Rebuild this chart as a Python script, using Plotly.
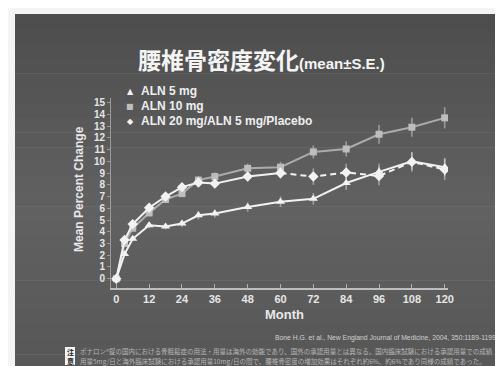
import plotly.graph_objects as go

# ---------------- data ----------------
months = [0, 3, 6, 12, 18, 24, 30, 36, 48, 60, 72, 84, 96, 108, 120]
x_ticks = [0, 12, 24, 36, 48, 60, 72, 84, 96, 108, 120]
y_ticks = list(range(0, 16))

aln5 = [0, 2.1, 3.4, 4.55, 4.45, 4.7, 5.4, 5.55, 6.1, 6.55, 6.8, 8.15, 9.1, 10.0, 9.5]
aln5_se = [0, 0.15, 0.2, 0.25, 0.25, 0.3, 0.35, 0.35, 0.4, 0.45, 0.5, 0.6, 0.7, 0.75, 0.8]

aln10 = [0, 3.0, 4.3, 5.6, 6.75, 7.25, 8.4, 8.7, 9.4, 9.5, 10.8, 11.05, 12.3, 12.9, 13.7]
aln10_se = [0, 0.15, 0.2, 0.25, 0.25, 0.3, 0.35, 0.35, 0.4, 0.45, 0.55, 0.65, 0.8, 0.8, 0.9]

aln20 = [0, 3.3, 4.65, 6.05, 7.0, 7.8, 8.2, 8.1, 8.7, 9.0, 8.7, 9.05, 8.75, 9.95, 9.3]
aln20_se = [0, 0.15, 0.2, 0.25, 0.25, 0.3, 0.35, 0.35, 0.4, 0.45, 0.7, 0.75, 0.8, 0.85, 0.9]
switch_index = 9  # month 60: solid before, dashed after

legend_labels = ["ALN 5 mg", "ALN 10 mg", "ALN 20 mg/ALN 5 mg/Placebo"]
title_jp = "腰椎骨密度変化"
title_en = "(mean±S.E.)"
y_title = "Mean Percent Change"
x_title = "Month"
citation = "Bone H.G. et al., New England Journal of Medicine, 2004, 350:1189-1199"
note_lines = [
    "ボナロン®錠の国内における骨粗鬆症の用法・用量は海外の効能であり、国外の承認用量とは異なる。国内臨床試験における承認用量での成績",
    "用量5mg/日と海外臨床試験における承認用量10mg/日の間で、腰椎骨密度の増加効果はそれぞれ約6%、約6%であり同様の成績であった。",
]

# ---------------- layout geometry ----------------
W, H = 503, 366
L, R, T, B = 103, 63, 90, 86
PW, PH = W - L - R, H - T - B


def px2x(px):
    return (px - L) / PW


def py2y(py):
    return (H - B - py) / PH


WHITE = "#f2f2f2"
EB = "rgba(255,255,255,0.40)"

fig = go.Figure()

# ALN 10 mg
fig.add_trace(go.Scatter(
    x=months, y=aln10, mode="lines+markers",
    line=dict(color="#ababab", width=2),
    marker=dict(symbol="square", size=7, color="#bdbdbd"),
    error_y=dict(type="data", array=aln10_se, color=EB, thickness=1.6, width=0),
    showlegend=False))

# ALN 5 mg
fig.add_trace(go.Scatter(
    x=months, y=aln5, mode="lines+markers",
    line=dict(color=WHITE, width=2),
    marker=dict(symbol="triangle-up", size=8, color=WHITE),
    error_y=dict(type="data", array=aln5_se, color=EB, thickness=1.6, width=0),
    showlegend=False))

# ALN 20 mg/ALN 5 mg/Placebo : solid part
fig.add_trace(go.Scatter(
    x=months[:switch_index + 1], y=aln20[:switch_index + 1], mode="lines+markers",
    line=dict(color=WHITE, width=2),
    marker=dict(symbol="diamond", size=8, color=WHITE),
    error_y=dict(type="data", array=aln20_se[:switch_index + 1], color=EB, thickness=1.6, width=0),
    showlegend=False))
# dashed part
fig.add_trace(go.Scatter(
    x=months[switch_index:], y=aln20[switch_index:], mode="lines+markers",
    line=dict(color=WHITE, width=2, dash="6px,4px"),
    marker=dict(symbol="diamond", size=8, color=WHITE),
    error_y=dict(type="data", array=aln20_se[switch_index:], color=EB, thickness=1.6, width=0),
    showlegend=False))

# ---------------- background (slide photo) ----------------
shapes = []
slide_left, slide_top, slide_bottom = 7, 6, 361
band_cols = []
n_bands = 24
for i in range(n_bands):
    t = i / (n_bands - 1)
    if t < 0.55:
        v = 78 + (98 - 78) * (t / 0.55)
    else:
        v = 98 - (98 - 88) * ((t - 0.55) / 0.45)
    band_cols.append("rgb(%d,%d,%d)" % (v, v, v))
bh = (slide_bottom - slide_top) / n_bands
for i, c in enumerate(band_cols):
    y0 = slide_top + i * bh
    shapes.append(dict(type="rect", xref="paper", yref="paper", layer="below",
                       x0=px2x(slide_left), x1=px2x(W + 5),
                       y0=py2y(y0 + bh + 0.5), y1=py2y(y0),
                       fillcolor=c, line=dict(width=0)))
shapes.append(dict(type="line", xref="paper", yref="paper", layer="below",
                   x0=px2x(slide_left), x1=px2x(W + 5), y0=py2y(slide_bottom), y1=py2y(slide_bottom),
                   line=dict(color="#2a2a2a", width=1.5)))
# 注意 box
shapes.append(dict(type="rect", xref="paper", yref="paper",
                   x0=px2x(57), x1=px2x(67), y0=py2y(357), y1=py2y(339),
                   fillcolor="#f4f4f4", line=dict(width=0)))

annotations = []
# title
annotations.append(dict(
    x=px2x(253), y=py2y(51), xref="paper", yref="paper", showarrow=False,
    xanchor="center", yanchor="middle",
    text="<b>%s</b><b><span style='font-size:15px;font-family:Liberation Sans'>%s</span></b>" % (title_jp, title_en),
    font=dict(family="Noto Sans CJK JP", size=23, color="#f4f4f4")))

# legend
sym_chars = ["▲", "■", "◆"]
sym_cols = [WHITE, "#bdbdbd", WHITE]
leg_py = [83, 98, 113]
for s, c, lab, yy in zip(sym_chars, sym_cols, legend_labels, leg_py):
    annotations.append(dict(x=px2x(122), y=py2y(yy), xref="paper", yref="paper",
                            showarrow=False, xanchor="center", yanchor="middle",
                            text=s, font=dict(family="DejaVu Sans", size=8, color=c)))
    annotations.append(dict(x=px2x(131), y=py2y(yy), xref="paper", yref="paper",
                            showarrow=False, xanchor="left", yanchor="middle",
                            text="<b>%s</b>" % lab,
                            font=dict(family="Liberation Sans", size=12, color="#eeeeee")))

# axis titles
annotations.append(dict(x=px2x(71), y=py2y(181), xref="paper", yref="paper", showarrow=False,
                        textangle=-90, xanchor="center", yanchor="middle",
                        text="<b>%s</b>" % y_title,
                        font=dict(family="Liberation Sans", size=12, color="#e8e8e8")))
annotations.append(dict(x=px2x(276), y=py2y(306), xref="paper", yref="paper", showarrow=False,
                        xanchor="center", yanchor="middle",
                        text="<b>%s</b>" % x_title,
                        font=dict(family="Liberation Sans", size=13, color="#e8e8e8")))
# citation
annotations.append(dict(x=px2x(265), y=py2y(330), xref="paper", yref="paper", showarrow=False,
                        xanchor="left", yanchor="middle", text=citation,
                        font=dict(family="Liberation Sans", size=6.8, color="#d0d0d0")))
# 注意
annotations.append(dict(x=px2x(62), y=py2y(348), xref="paper", yref="paper", showarrow=False,
                        xanchor="center", yanchor="middle", text="<b>注<br>意</b>",
                        font=dict(family="Noto Sans CJK JP", size=7, color="#222222")))
for i, ln in enumerate(note_lines):
    annotations.append(dict(x=px2x(70), y=py2y(343 + i * 9.5), xref="paper", yref="paper",
                            showarrow=False, xanchor="left", yanchor="middle", text=ln,
                            font=dict(family="Noto Sans CJK JP", size=6.5, color="#b5b5b5")))

fig.update_layout(
    width=W, height=H,
    margin=dict(l=L, r=R, t=T, b=B, pad=0),
    paper_bgcolor="#f4f4f4",
    plot_bgcolor="rgba(0,0,0,0)",
    shapes=shapes,
    annotations=annotations,
    showlegend=False,
)
fig.update_xaxes(
    range=[-1.94, 121.2], tickvals=x_ticks, ticktext=[str(v) for v in x_ticks],
    showgrid=False, zeroline=False, showline=True, linecolor="#bdbdbd", linewidth=1.5,
    ticks="inside", ticklen=4, tickcolor="#b0b0b0", tickwidth=1,
    tickfont=dict(family="Liberation Sans", size=11, color="#e6e6e6", weight="bold"),
)
fig.update_yaxes(
    range=[-0.79, 15.39], tickvals=y_ticks, ticktext=[str(v) for v in y_ticks],
    showgrid=False, zeroline=False, showline=True, linecolor="#9a9a9a", linewidth=1,
    ticks="outside", ticklen=3, tickcolor="#9a9a9a", tickwidth=1,
    tickfont=dict(family="Liberation Sans", size=10, color="#e6e6e6", weight="bold"),
)

fig.write_html("out.html")
